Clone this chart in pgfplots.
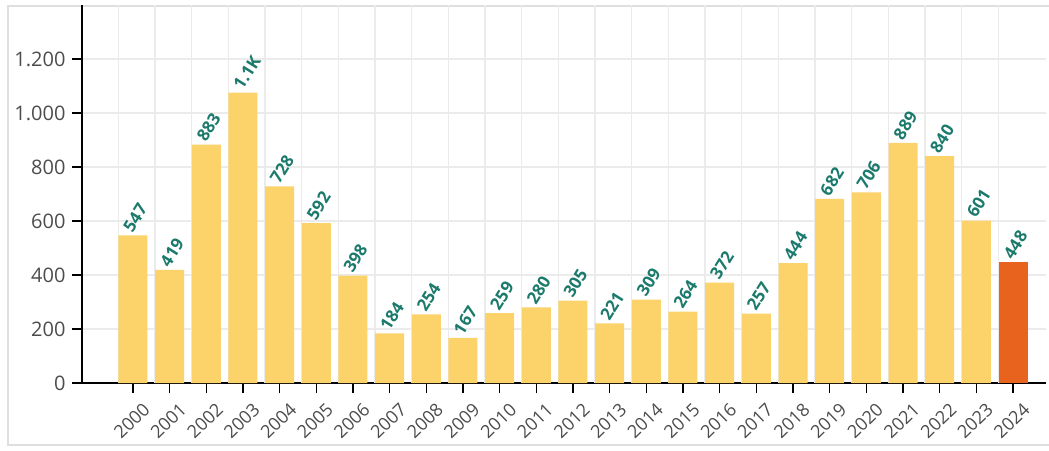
\documentclass[border=0pt]{standalone}
\usepackage{pgfplots}
\pgfplotsset{compat=1.18}
\usepackage{fontspec}
\setmainfont{Open Sans}
\definecolor{baryellow}{HTML}{FCD36B}
\definecolor{barorange}{HTML}{E8641E}
\definecolor{labelteal}{HTML}{1B7A6C}
\definecolor{ticktext}{HTML}{4C4C4C}
\definecolor{gridgray}{HTML}{EBEBEB}

\begin{document}
\begin{tikzpicture}
\path[use as bounding box] (0,0) rectangle (1049pt,450pt);
\draw[gray!25, line width=1.5pt] (8pt,5pt) rectangle (1070pt,444pt);
\begin{axis}[
    at={(82pt,67pt)}, anchor=south west,
    scale only axis, width=964pt, height=378pt,
    xmin=-1.39, xmax=24.9, ymin=0, ymax=1400,
    axis lines*=left,
    axis line style={black, line width=1.8pt},
    xtick align=outside, ytick align=outside,
    major tick length=10pt,
    xtick style={draw=black, line width=1.4pt},
    ytick style={draw=black, line width=1.6pt},
    xtick={0,...,24},
    xticklabels={2000,2001,2002,2003,2004,2005,2006,2007,2008,2009,2010,2011,2012,2013,2014,2015,2016,2017,2018,2019,2020,2021,2022,2023,2024},
    xticklabel style={font=\fontsize{18}{19}\selectfont, text=ticktext, xshift=9pt, yshift=-7pt, rotate=44, anchor=north east, inner sep=1pt},
    ytick={0,200,...,1200},
    yticklabel style={font=\fontsize{20}{21}\selectfont, text=ticktext, xshift=-3pt, /pgf/number format/1000 sep={.}},
    /pgf/number format/assume math mode=true,
    ymajorgrids=true,
    extra x ticks={-0.4,0.6,1.6,2.6,3.6,4.6,5.6,6.6,7.6,8.6,9.6,10.6,11.6,12.6,13.6,14.6,15.6,16.6,17.6,18.6,19.6,20.6,21.6,22.6,23.6},
    extra x tick labels={},
    extra x tick style={xmajorgrids=true, xtick style={draw=none}},
    major grid style={draw=gridgray, line width=1.2pt},
    clip=false,
    point meta=explicit symbolic,
    every node near coord/.style={font=\fontsize{17}{18}\selectfont\bfseries, text=labelteal, xshift=-6pt, yshift=4pt, rotate=58, anchor=west, inner sep=1pt},
]
\addplot[ybar, bar width=29pt, bar shift=0pt, nodes near coords, fill=baryellow, draw=none] coordinates {
    (0,547) [547] (1,419) [419] (2,883) [883] (3,1075) [1.1K] (4,728) [728]
    (5,592) [592] (6,398) [398] (7,184) [184] (8,254) [254] (9,167) [167]
    (10,259) [259] (11,280) [280] (12,305) [305] (13,221) [221] (14,309) [309]
    (15,264) [264] (16,372) [372] (17,257) [257] (18,444) [444] (19,682) [682]
    (20,706) [706] (21,889) [889] (22,840) [840] (23,601) [601]
};
\addplot[ybar, bar width=29pt, bar shift=0pt, nodes near coords, fill=barorange, draw=none] coordinates {(24,448) [448]};
% y tick marks drawn out by hand, they did not show up
\pgfplotsinvokeforeach{0,200,400,600,800,1000,1200}{
    \draw[black, line width=1.6pt] (axis cs:-1.39,#1) -- ++(-10pt,0pt);
}
\end{axis}
\end{tikzpicture}
\end{document}
